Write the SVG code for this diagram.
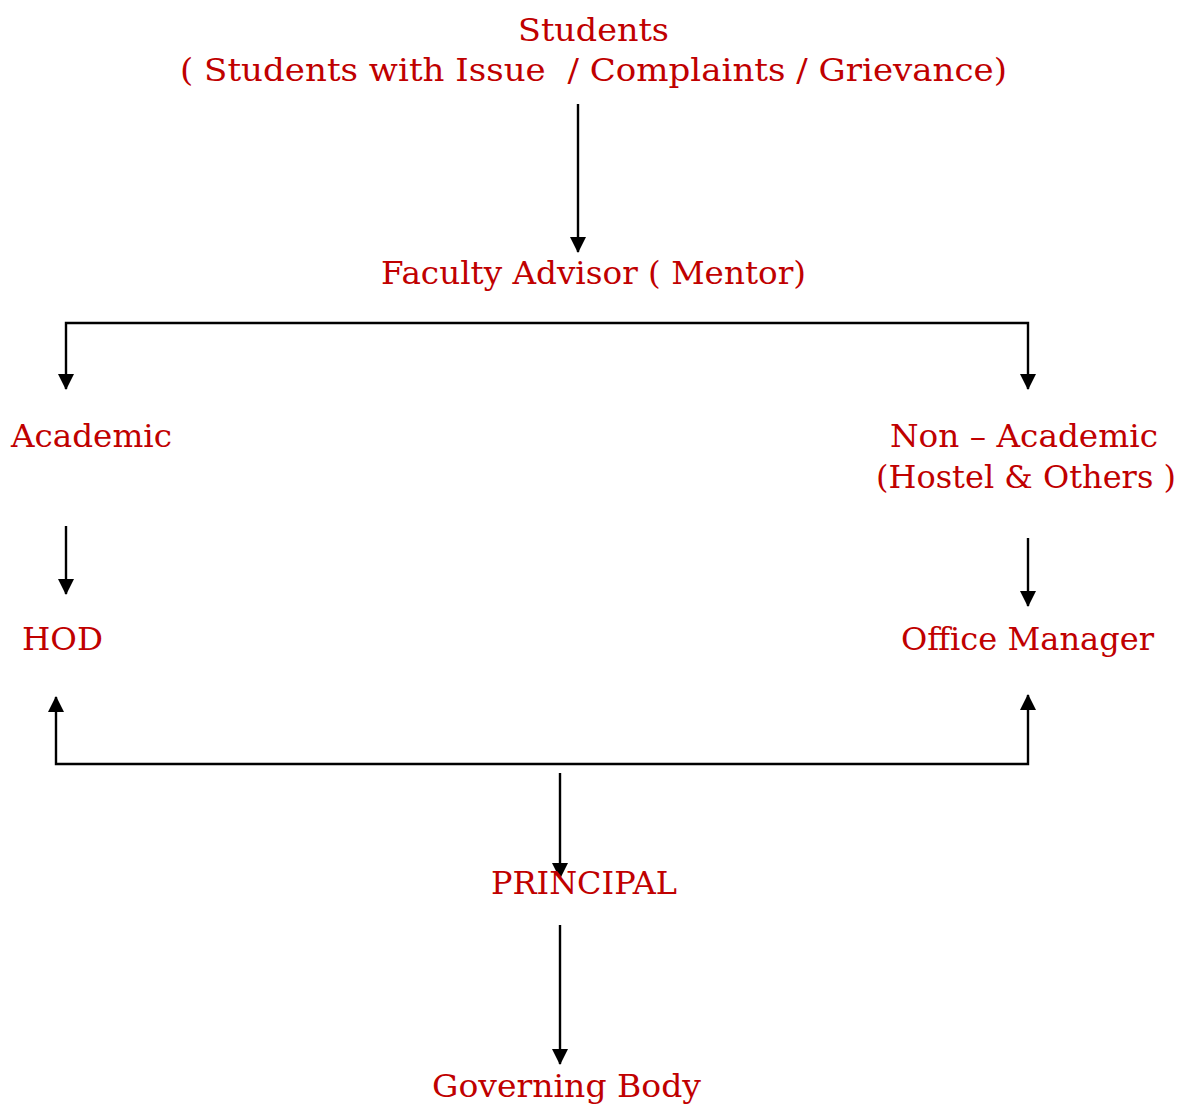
<svg xmlns="http://www.w3.org/2000/svg" width="1181" height="1104" viewBox="0 0 1181 1104">
<style>
text{font-family:"DejaVu Serif","Liberation Serif",serif;font-size:32px;fill:#c00000}
.c{fill:none;stroke:#000;stroke-width:2.4}
</style>
<defs>
<marker id="ah" viewBox="0 0 16 16" refX="15" refY="8" markerWidth="16" markerHeight="16" orient="auto-start-reverse" markerUnits="userSpaceOnUse">
<path d="M0,0 L16,8 L0,16 Z" fill="#000"/>
</marker>
</defs>
<rect width="1181" height="1104" fill="#fff"/>
<g id="connectors">
<path class="c" d="M578,104 V252" marker-end="url(#ah)"/>
<path class="c" d="M66,389 V323 H1028 V389" marker-start="url(#ah)" marker-end="url(#ah)"/>
<path class="c" d="M66,526 V594" marker-end="url(#ah)"/>
<path class="c" d="M1028,538 V606" marker-end="url(#ah)"/>
<path class="c" d="M56,697 V764 H1028 V695" marker-start="url(#ah)" marker-end="url(#ah)"/>
<path class="c" d="M560,773 V878" marker-end="url(#ah)"/>
<path class="c" d="M560,925 V1064" marker-end="url(#ah)"/>
</g>
<g id="students">
<text x="518" y="41" textLength="151" lengthAdjust="spacingAndGlyphs">Students</text>
<text x="180" y="81" textLength="827" lengthAdjust="spacingAndGlyphs" xml:space="preserve">( Students with Issue  / Complaints / Grievance)</text>
</g>
<g id="faculty-advisor">
<text x="381" y="284" textLength="425" lengthAdjust="spacingAndGlyphs">Faculty Advisor ( Mentor)</text>
</g>
<g id="academic">
<text x="11" y="447" textLength="161" lengthAdjust="spacingAndGlyphs">Academic</text>
</g>
<g id="non-academic">
<text x="890" y="447" textLength="268" lengthAdjust="spacingAndGlyphs">Non – Academic</text>
<text x="876" y="488" textLength="300" lengthAdjust="spacingAndGlyphs">(Hostel &amp; Others )</text>
</g>
<g id="hod">
<text x="22" y="650" textLength="81" lengthAdjust="spacingAndGlyphs">HOD</text>
</g>
<g id="office-manager">
<text x="901" y="650" textLength="253" lengthAdjust="spacingAndGlyphs">Office Manager</text>
</g>
<g id="principal">
<text x="491" y="894" textLength="186" lengthAdjust="spacingAndGlyphs">PRINCIPAL</text>
</g>
<g id="governing-body">
<text x="432" y="1097" textLength="269" lengthAdjust="spacingAndGlyphs">Governing Body</text>
</g>
</svg>
